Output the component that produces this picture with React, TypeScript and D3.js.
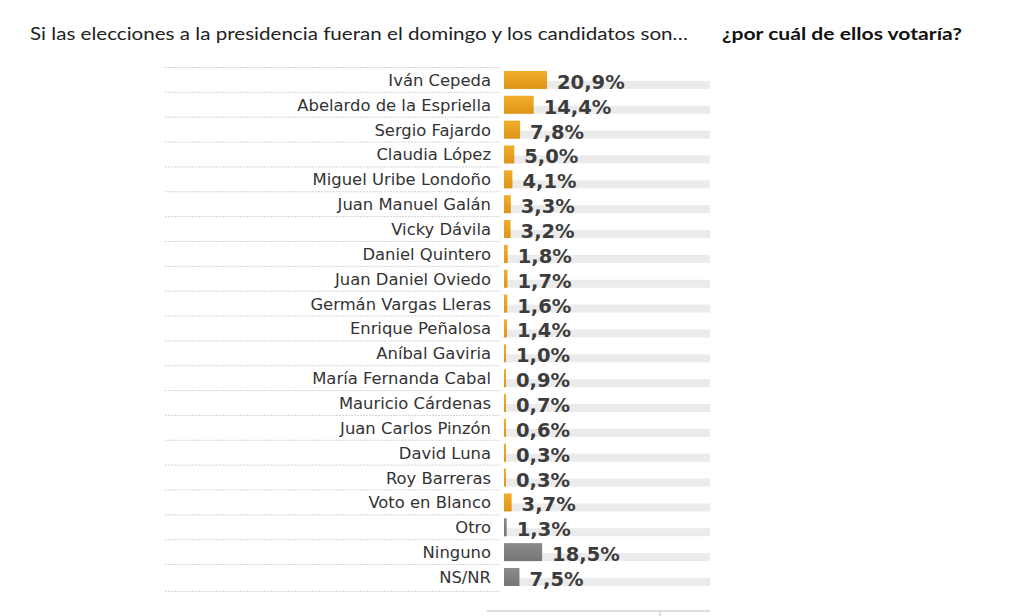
import * as React from "react";
import * as d3 from "d3";

// Poll: "¿por cuál de ellos votaría?" — share of vote intention, %
const candidates = [
  "Iván Cepeda",
  "Abelardo de la Espriella",
  "Sergio Fajardo",
  "Claudia López",
  "Miguel Uribe Londoño",
  "Juan Manuel Galán",
  "Vicky Dávila",
  "Daniel Quintero",
  "Juan Daniel Oviedo",
  "Germán Vargas Lleras",
  "Enrique Peñalosa",
  "Aníbal Gaviria",
  "María Fernanda Cabal",
  "Mauricio Cárdenas",
  "Juan Carlos Pinzón",
  "David Luna",
  "Roy Barreras",
  "Voto en Blanco",
  "Otro",
  "Ninguno",
  "NS/NR",
];

const shares = [20.9, 14.4, 7.8, 5.0, 4.1, 3.3, 3.2, 1.8, 1.7, 1.6, 1.4, 1.0, 0.9, 0.7, 0.6, 0.3, 0.3, 3.7, 1.3, 18.5, 7.5];

// non-candidate answers drawn in grey
const greyRows = ["Otro", "Ninguno", "NS/NR"];

const W = 1024;
const H = 616;

const fmt = (v: number) => v.toFixed(1).replace(".", ",") + "%";

export default function App() {
  const x0 = 504;
  const x = d3.scaleLinear().domain([0, 100]).range([0, 206]);
  const y = d3.scaleBand<string>().domain(candidates).range([67.5, 589.4]).padding(0);
  const bw = y.bandwidth();

  const titleFont = "'Lato', 'DejaVu Sans', sans-serif";
  const labelFont = "'DejaVu Sans', sans-serif";

  return (
    <svg
      width={W}
      height={H}
      viewBox={`0 0 ${W} ${H}`}
      style={{ position: "fixed", left: 0, top: 0, background: "#fff" }}
    >
      <defs>
        <linearGradient id="orange" x1="0" x2="0" y1="0" y2="1">
          <stop offset="0" stopColor="#f2ae2a" />
          <stop offset="1" stopColor="#de9418" />
        </linearGradient>
        <linearGradient id="grey" x1="0" x2="0" y1="0" y2="1">
          <stop offset="0" stopColor="#8a8a8a" />
          <stop offset="1" stopColor="#767676" />
        </linearGradient>
      </defs>

      {/* title */}
      <text
        x={30}
        y={40}
        fontFamily={titleFont}
        fontSize={17}
        fill="#222"
        textLength={658}
        lengthAdjust="spacingAndGlyphs"
      >
        Si las elecciones a la presidencia fueran el domingo y los candidatos son…
      </text>
      <text
        x={722}
        y={40}
        fontFamily={titleFont}
        fontSize={17}
        fontWeight={700}
        fill="#111"
        textLength={240}
        lengthAdjust="spacingAndGlyphs"
      >
        ¿por cuál de ellos votaría?
      </text>

      {/* dotted row separators */}
      {candidates.map((c) => (
        <line
          key={"sep" + c}
          x1={165}
          x2={500}
          y1={y(c)!}
          y2={y(c)!}
          stroke="#d4d4d4"
          strokeWidth={1}
          strokeDasharray="2 1"
        />
      ))}
      <line x1={165} x2={500} y1={y.range()[1] + 2} y2={y.range()[1] + 2} stroke="#d4d4d4" strokeDasharray="2 1" />

      {candidates.map((c, i) => {
        const cy = y(c)! + bw / 2;
        const v = shares[i];
        const w = Math.max(2, x(v));
        const isGrey = greyRows.includes(c);
        return (
          <g key={c}>
            <text
              x={491}
              y={cy + 6}
              textAnchor="end"
              fontFamily={labelFont}
              fontSize={16.4}
              fill="#333"
            >
              {c}
            </text>
            {/* background track */}
            <rect x={x0} y={cy + 1} width={x(100)} height={8} fill="#ebebeb" />
            <rect
              x={x0}
              y={cy - 9}
              width={w}
              height={18}
              fill={isGrey ? "url(#grey)" : "url(#orange)"}
            />
            <text
              x={x0 + w + 10}
              y={cy + 9}
              fontFamily={labelFont}
              fontSize={19.5}
              fontWeight={700}
              fill="#3c3c3c"
            >
              {fmt(v)}
            </text>
          </g>
        );
      })}

      {/* bottom axis */}
      <line x1={487} x2={710} y1={611} y2={611} stroke="#bdbdbd" />
      <line x1={660} x2={660} y1={611} y2={616} stroke="#bdbdbd" />
    </svg>
  );
}
